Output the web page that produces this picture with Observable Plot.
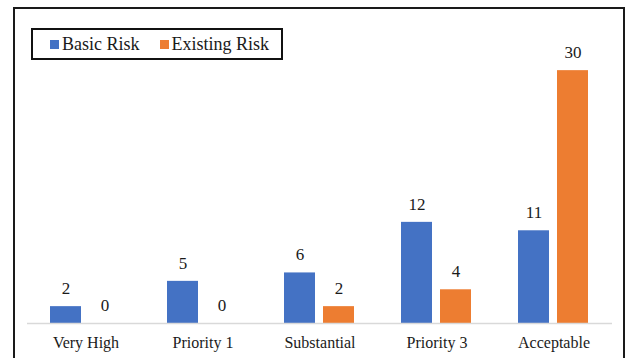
<!DOCTYPE html>
<html>
<head>
<meta charset="utf-8">
<script src="https://cdn.jsdelivr.net/npm/d3@7"></script>
<script src="https://cdn.jsdelivr.net/npm/@observablehq/plot@0.6"></script>
<style>
  html, body { margin: 0; padding: 0; width: 626px; height: 358px; overflow: hidden; background: #fff; }
  #chart { position: absolute; left: 0; top: 0; }
  #frame { position: absolute; left: 13px; top: 7px; right: 1px; height: 400px; border: 2px solid #1a1a1a; box-sizing: border-box; z-index: 2; pointer-events: none; }
  #legend { position: absolute; left: 31px; top: 28px; width: 252px; height: 32px; border: 2px solid #111; box-sizing: border-box; z-index: 3;
            display: flex; align-items: center; padding-left: 17px; font-family: 'Liberation Serif', 'LiberationSerif', Tinos, 'Times New Roman', Times, 'DejaVu Serif', 'Noto Serif'; font-size: 18px; color: #1a1a1a; background: #fff; }
  .item { display: flex; align-items: center; margin-right: 20px; white-space: nowrap; }
  .sw { width: 9px; height: 9px; margin-right: 3px; }
</style>
</head>
<body>
<div id="chart"></div>
<div id="frame"></div>
<div id="legend"></div>
<script>
const categories = ["Very High", "Priority 1", "Substantial", "Priority 3", "Acceptable"];
const series = ["Basic Risk", "Existing Risk"];
const basicRisk = [2, 5, 6, 12, 11];
const existingRisk = [0, 0, 2, 4, 30];
const colors = ["#4472C4", "#ED7D31"];

const data = categories.flatMap((c, i) => [
  {category: c, series: series[0], value: basicRisk[i]},
  {category: c, series: series[1], value: existingRisk[i]}
]);

const font = "'Liberation Serif', 'LiberationSerif', Tinos, 'Times New Roman', Times, 'DejaVu Serif', 'Noto Serif'";

const chart = Plot.plot({
  width: 626,
  height: 358,
  marginTop: 28,
  marginBottom: 35,
  marginLeft: 26,
  marginRight: 14,
  fx: {domain: categories, padding: 0, label: null},
  x: {domain: series, axis: null, paddingInner: 0.2, paddingOuter: 0.58},
  y: {domain: [0, 35], axis: null},
  color: {domain: series, range: colors},
  style: {fontFamily: font, fontSize: "16px", color: "#1a1a1a", background: "transparent"},
  marks: [
    Plot.barY(data, {fx: "category", x: "series", y: "value", fill: "series"}),
    Plot.ruleY([0], {stroke: "#d9d9d9", strokeWidth: 1.5}),
    Plot.text(data, {fx: "category", x: "series", y: "value", text: d => String(d.value), dy: -18, fontSize: 17, fill: "#1a1a1a"}),
    Plot.axisFx({anchor: "bottom", tickSize: 0, tickPadding: 13, fontSize: 16, label: null})
  ]
});
document.getElementById("chart").appendChild(chart);

const legend = document.getElementById("legend");
series.forEach((s, i) => {
  const item = document.createElement("div");
  item.className = "item";
  const sw = document.createElement("div");
  sw.className = "sw";
  sw.style.background = colors[i];
  const label = document.createElement("span");
  label.textContent = s;
  item.appendChild(sw);
  item.appendChild(label);
  legend.appendChild(item);
});
</script>
</body>
</html>
